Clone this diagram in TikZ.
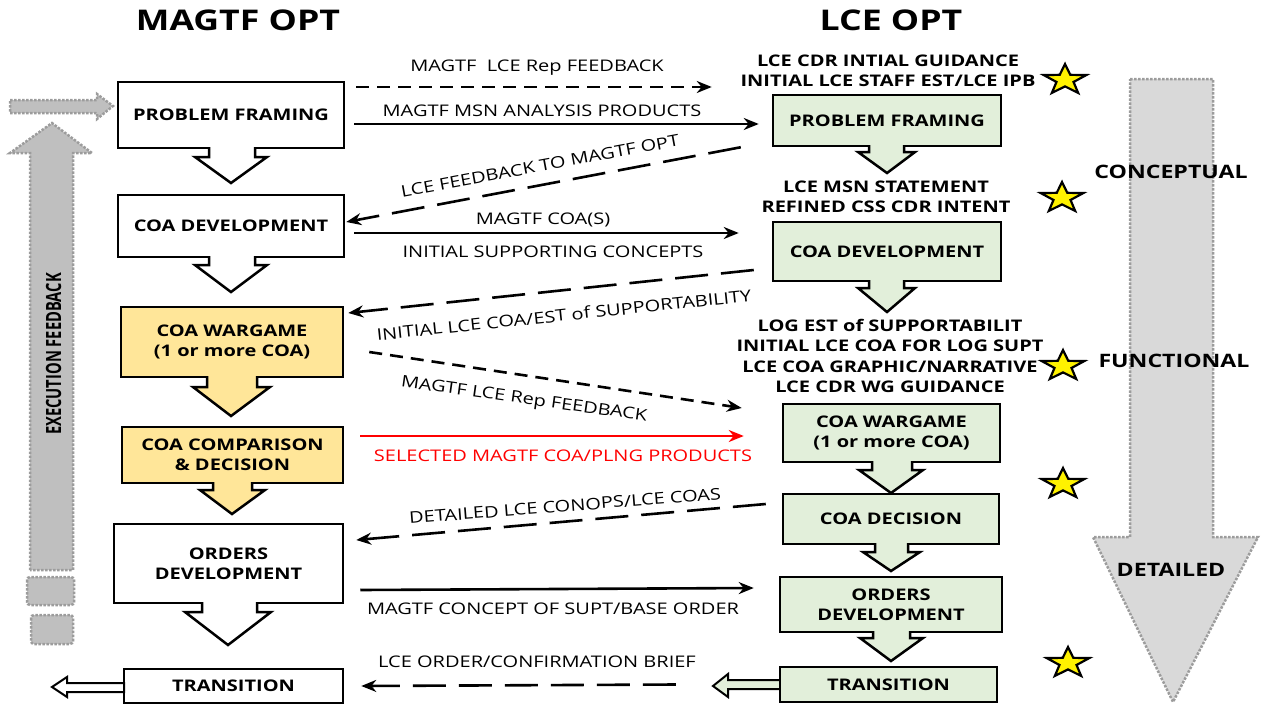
\documentclass[tikz,border=0pt]{standalone}
\usepackage{fontspec}
\setmainfont{Open Sans}[FakeStretch=1.25]
\newfontfamily\narrowsans{Open Sans}[FakeStretch=0.7]
\usetikzlibrary{arrows.meta, positioning, calc, shapes.geometric}

\definecolor{boxyellow}{HTML}{FFE699}
\definecolor{boxgreen}{HTML}{E2EFDA}
\definecolor{bandgray}{HTML}{D9D9D9}
\definecolor{fbgray}{HTML}{BFBFBF}
\definecolor{dotgray}{HTML}{9C9C9C}
\definecolor{selred}{HTML}{FF0000}

\begin{document}
\begin{tikzpicture}[x=1pt, y=-1pt,
	optbox/.style={draw, line width=2.5pt, align=center, inner sep=0pt, font=\fontsize{16}{20}\selectfont\bfseries},
	lcebox/.style={optbox, fill=boxgreen},
	chev/.style={line width=2.5pt, line join=miter},
	flow/.style={line width=2.6pt, -{Stealth[length=15pt,width=12pt]}},
	shortdash/.style={flow, dash pattern=on 13pt off 8pt},
	longdash/.style={flow, dash pattern=on 33pt off 13pt},
	lbl/.style={font=\fontsize{16}{20}\selectfont, inner sep=0pt},
	note/.style={align=center, font=\fontsize{16}{20.5}\selectfont\bfseries, inner sep=0pt},
	goldstar/.style={star, star points=5, star point ratio=2.5, draw, fill=yellow, line width=2.2pt, minimum size=32pt, inner sep=0pt, xscale=1.4},
	phase/.style={font=\fontsize{18.5}{20}\selectfont\bfseries, inner sep=0pt},
	shade/.style={draw=dotgray, line width=2.5pt, dash pattern=on 2.5pt off 1.5pt}]
	\useasboundingbox (0,0) rectangle (1263,704);

	% side bands
	\filldraw[shade, fill=bandgray] (1130,79) -- (1213,79) -- (1213,537) -- (1258,537) -- (1173,702) -- (1093,537) -- (1130,537) -- cycle;
	\filldraw[shade, fill=fbgray] (30,570) -- (30,153) -- (10,153) -- (52,123) -- (92,153) -- (73,153) -- (73,570) -- cycle;
	\filldraw[shade, fill=fbgray] (10,100) -- (97,100) -- (97,94) -- (113,106) -- (97,119) -- (97,113) -- (10,113) -- cycle;
	\filldraw[shade, fill=fbgray, rounded corners=3pt] (27,577) rectangle (74,605);
	\filldraw[shade, fill=fbgray, rounded corners=3pt] (31,615) rectangle (73,644);
	\node (exfb) at (53.5,354) [rotate=90, inner sep=0pt, font=\narrowsans\fontsize{21}{24}\selectfont\bfseries] {EXECUTION FEEDBACK};

	\node (conc) at (1171,172) [phase] {CONCEPTUAL};
	\node (func) at (1174,361) [phase] {FUNCTIONAL};
	\node (det) at (1171,570) [phase] {DETAILED};

	% titles
	\node (mtitle) at (238,20) [font=\fontsize{28.5}{30}\selectfont\bfseries] {MAGTF OPT};
	\node (ltitle) at (891,20) [font=\fontsize{28.5}{30}\selectfont\bfseries] {LCE OPT};

	% transition block arrows
	\filldraw[line width=2pt, fill=white] (124,683) -- (67,683) -- (67,677) -- (52,687) -- (67,697) -- (67,692) -- (124,692) -- cycle;
	\filldraw[line width=2pt, fill=boxgreen] (780,680) -- (728,680) -- (728,674) -- (713,686) -- (728,697) -- (728,689) -- (780,689) -- cycle;

	% MAGTF OPT steps
	\node (lp1) at (231,115) [optbox, minimum width=226pt, minimum height=66pt] {PROBLEM FRAMING};
	\node (lp2) at (231,226) [optbox, minimum width=226pt, minimum height=62pt] {COA DEVELOPMENT};
	\node (lp3) at (232,342) [optbox, fill=boxyellow, minimum width=222pt, minimum height=70pt] {COA WARGAME\\(1 or more COA)};
	\node (lp4) at (232.5,455) [optbox, fill=boxyellow, minimum width=221pt, minimum height=56pt] {COA COMPARISON\\\& DECISION};
	\node (lp5) at (228.5,563.5) [optbox, minimum width=229pt, minimum height=79pt] {ORDERS\\DEVELOPMENT};
	\node (lp6) at (233.5,686) [optbox, minimum width=219pt, minimum height=34pt] {TRANSITION};

	% LCE OPT steps
	\node (rp1) at (887,120.5) [lcebox, minimum width=228pt, minimum height=51pt] {PROBLEM FRAMING};
	\node (rp2) at (887,251.5) [lcebox, minimum width=228pt, minimum height=59pt] {COA DEVELOPMENT};
	\node (rp3) at (891.5,433) [lcebox, minimum width=217pt, minimum height=58pt] {COA WARGAME\\(1 or more COA)};
	\node (rp4) at (891,519) [lcebox, minimum width=216pt, minimum height=50pt] {COA DECISION};
	\node (rp5) at (891,604.5) [lcebox, minimum width=222pt, minimum height=55pt] {ORDERS\\DEVELOPMENT};
	\node (rp6) at (888.5,684.5) [lcebox, minimum width=217pt, minimum height=35pt] {TRANSITION};

	% step chevrons
	\filldraw[chev, fill=white] (209,147) -- (209,157) -- (195,157) -- (231,183) -- (267,157) -- (255,157) -- (255,147);
	\filldraw[chev, fill=white] (209,256) -- (209,265) -- (195,265) -- (231,292) -- (267,265) -- (255,265) -- (255,256);
	\filldraw[chev, fill=boxyellow] (207,376) -- (207,387) -- (193,387) -- (231,416) -- (270,387) -- (257,387) -- (257,376);
	\filldraw[chev, fill=boxyellow] (213,482) -- (213,490) -- (200,490) -- (232,514) -- (265,490) -- (252,490) -- (252,482);
	\filldraw[chev, fill=white] (202,602) -- (202,612) -- (185,612) -- (228,645) -- (271,612) -- (257,612) -- (257,602);
	\filldraw[chev, fill=boxgreen] (869,145) -- (869,152) -- (858,152) -- (887,173) -- (915,152) -- (904,152) -- (904,145);
	\filldraw[chev, fill=boxgreen] (869,280) -- (869,288) -- (858,288) -- (887,312) -- (915,288) -- (904,288) -- (904,280);
	\filldraw[chev, fill=boxgreen] (872,461) -- (872,470) -- (859,470) -- (891,493) -- (923,470) -- (912,470) -- (912,461);
	\filldraw[chev, fill=boxgreen] (875,543) -- (875,552) -- (863,552) -- (891,571) -- (920,552) -- (908,552) -- (908,543);
	\filldraw[chev, fill=boxgreen] (873,631) -- (873,638) -- (860,638) -- (891,661) -- (923,638) -- (910,638) -- (910,631);

	% LCE notes and stars
	\node (ra1) at (888,71) [note] {LCE CDR INTIAL GUIDANCE\\INITIAL LCE STAFF EST/LCE IPB};
	\node (ra2) at (886,197) [note] {LCE MSN STATEMENT\\REFINED CSS CDR INTENT};
	\node (ra3) at (890,356) [note] {LOG EST of SUPPORTABILIT\\INITIAL LCE COA FOR LOG SUPT\\LCE COA GRAPHIC/NARRATIVE\\LCE CDR WG GUIDANCE};
	\node (s1) at (1065,80) [goldstar] {};
	\node (s2) at (1062,198) [goldstar] {};
	\node (s3) at (1063,366) [goldstar] {};
	\node (s4) at (1063,484) [goldstar] {};
	\node (s5) at (1068,663) [goldstar] {};

	% exchanges between the OPTs
	\draw[shortdash] ([xshift=11pt,yshift=28pt]lp1.east) -- ([xshift=-60pt,yshift=33.5pt]rp1.west);
	\draw[flow] ([xshift=9pt,yshift=-9pt]lp1.east) -- ([xshift=-13pt,yshift=-3.5pt]rp1.west);
	\draw[longdash] ([xshift=-31pt]rp1.south west) -- ([xshift=1pt,yshift=4pt]lp2.east);
	\draw[flow] ([xshift=9pt,yshift=-7pt]lp2.east) -- ([xshift=-33pt,yshift=18.5pt]rp2.west);
	\draw[longdash] ([xshift=-18pt,yshift=-18.5pt]rp2.west) -- ([xshift=4pt,yshift=29pt]lp3.east);
	\draw[shortdash] ([xshift=25pt,yshift=-10pt]lp3.east) -- ([xshift=-40pt,yshift=25pt]rp3.west);
	\draw[flow, selred] ([xshift=16pt,yshift=19pt]lp4.east) -- ([xshift=-38pt,yshift=-3pt]rp3.west);
	\draw[longdash] ([xshift=-16pt,yshift=15pt]rp4.west) -- ([xshift=12pt,yshift=23.5pt]lp5.east);
	\draw[flow] ([xshift=16pt,yshift=-26.5pt]lp5.east) -- ([xshift=-25pt,yshift=16.5pt]rp5.west);
	\draw[longdash] ([xshift=-103pt]rp6.west) -- ([xshift=17pt]lp6.east);

	\node (l1) at (537,68) [lbl] {MAGTF\ \ LCE Rep FEEDBACK};
	\node (l2) at (542,111) [lbl] {MAGTF MSN ANALYSIS PRODUCTS};
	\node (l3) at (540,166) [lbl, rotate=10.5] {LCE FEEDBACK TO MAGTF OPT};
	\node (l4) at (543,220) [lbl] {MAGTF COA(S)};
	\node (l5) at (553,252) [lbl] {INITIAL SUPPORTING CONCEPTS};
	\node (l6) at (564,315) [lbl, rotate=6] {INITIAL LCE COA/EST of SUPPORTABILITY};
	\node (l7) at (524,400) [lbl, rotate=-8] {MAGTF LCE Rep FEEDBACK};
	\node (l8) at (563,456) [lbl, text=selred] {SELECTED MAGTF COA/PLNG PRODUCTS};
	\node (l9) at (565,506) [lbl, rotate=4.5] {DETAILED LCE CONOPS/LCE COAS};
	\node (l10) at (553,609) [lbl] {MAGTF CONCEPT OF SUPT/BASE ORDER};
	\node (l11) at (537,662) [lbl] {LCE ORDER/CONFIRMATION BRIEF};
\end{tikzpicture}
\end{document}
